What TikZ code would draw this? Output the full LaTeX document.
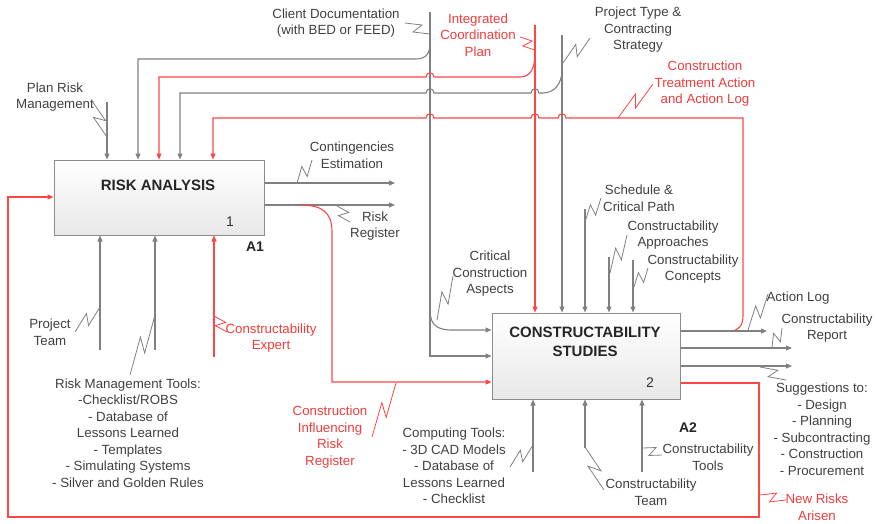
\documentclass[tikz,border=0pt]{standalone}
\usepackage{fontspec}
\setmainfont{Liberation Sans}
\usetikzlibrary{arrows.meta,calc}
\definecolor{lg}{HTML}{808080}
\definecolor{tg}{HTML}{404040}
\definecolor{rl}{HTML}{FF4545}
\definecolor{rt}{HTML}{F03C3C}
\definecolor{bx}{HTML}{8C8C8C}
\tikzset{
 gl/.style={draw=lg, line width=1.1pt},
 rln/.style={draw=rl, line width=1.1pt},
 garr/.style={gl, -{Triangle[length=6pt,width=5pt]}},
 rarr/.style={rln, -{Triangle[length=6pt,width=5pt]}},
 lead/.style={draw=lg, line width=0.8pt},
 rlead/.style={draw=rl, line width=0.8pt},
 lbl/.style={text=tg, font=\fontsize{13.3}{16.5}\selectfont, align=center, inner sep=0pt},
 rlbl/.style={lbl, text=rt},
 ttl/.style={text=black!85, font=\fontsize{15}{19}\selectfont\bfseries, align=center, inner sep=0pt},
 act/.style={draw=bx, line width=1pt, top color=white, bottom color=black!9, inner sep=0pt}
}
\newcommand\zz[3]{\draw[#1] (#2) -- ($(#2)!0.6!(#3)!5pt!90:(#3)$) -- ($(#2)!0.4!(#3)!5pt!-90:(#3)$) -- (#3);}
\begin{document}
\begin{tikzpicture}[x=1pt,y=-1pt]
\useasboundingbox (0,0) rectangle (877,523);

% activity boxes
\node[act, minimum width=210pt, minimum height=75pt] (ra) at (159,197.5) {};
\node[act, minimum width=188pt, minimum height=86pt] (cs) at (586,356) {};
\node[ttl] (rat) at (158,185) {RISK ANALYSIS};
\node[ttl] (cst) at (585,342) {CONSTRUCTABILITY\\STUDIES};
\node[lbl, font=\fontsize{14}{16}\selectfont, text=black!80] (ran) at (230,222) {1};
\node[lbl, font=\fontsize{14}{16}\selectfont, text=black!80] (csn) at (650,383) {2};
\node[ttl, font=\fontsize{14}{16}\selectfont\bfseries] (a1) at (255,247) {A1};
\node[ttl, font=\fontsize{14}{16}\selectfont\bfseries] (a2) at (688,428) {A2};

% coordinates
\coordinate (cdT) at (430,12);
\coordinate (cdC) at (430,356);
\coordinate (ccaE) at (452,330);
\coordinate (ra1) at (107,102);
\coordinate (ra2) at (138,59);
\coordinate (ra3) at (159,77);
\coordinate (ra4) at (180,93);
\coordinate (ra5) at (213,118);
\coordinate (icT) at (535,25);
\coordinate (ptT) at (562,35);
\coordinate (ceE) at (395,183);
\coordinate (rrE) at (395,205);
\coordinate (rcs) at (332,382);
\coordinate (fb1) at (759,383);
\coordinate (fb2) at (759,517);
\coordinate (fb3) at (8,517);
\coordinate (fb4) at (8,197);
\coordinate (rb1) at (100,350);
\coordinate (rb2) at (155,350);
\coordinate (rb3) at (214,357);
\coordinate (ct1) at (585,209);
\coordinate (ct2) at (609,257);
\coordinate (ct3) at (633,260);
\coordinate (co1) at (767,331);
\coordinate (co2) at (792,348);
\coordinate (co3) at (792,366);
\coordinate (cb1) at (533,472);
\coordinate (cb2) at (585,448);
\coordinate (cb3) at (642,472);

% client documentation
\draw[garr] (cdT) -- (cdC) -- (cdC -| cs.west);
\draw[garr] (430,310) .. controls (430,325) and (437,330) .. (ccaE) -- (ccaE -| cs.west);
\draw[garr] (430,44) .. controls (430,53) and (426,59) .. (416,59) -- (ra2) -- (ra2 |- ra.north);
% integrated coordination plan
\draw[rarr] (icT) -- (icT |- cs.north);
\draw[rarr] (535,53) .. controls (535,69) and (530,77) .. (520,77) -- (434,77)
  .. controls (434,71.5) and (426,71.5) .. (426,77) -- (ra3) -- (ra3 |- ra.north);
% project type
\draw[garr] (ptT) -- (ptT |- cs.north);
\draw[garr] (562,70) .. controls (562,84) and (554,93) .. (543,93) -- (539,93)
  .. controls (539,87.5) and (531,87.5) .. (531,93) -- (434,93)
  .. controls (434,87.5) and (426,87.5) .. (426,93) -- (ra4) -- (ra4 |- ra.north);
% treatment action
\draw[rarr] (730,331) .. controls (738,331) and (743,326) .. (743,316) -- (743,118) -- (566,118)
  .. controls (566,112.5) and (558,112.5) .. (558,118) -- (539,118)
  .. controls (539,112.5) and (531,112.5) .. (531,118) -- (434,118)
  .. controls (434,112.5) and (426,112.5) .. (426,118) -- (ra5) -- (ra5 |- ra.north);
% plan risk management
\draw[garr] (ra1) -- (ra1 |- ra.north);

% risk analysis outputs
\draw[garr] (ceE -| ra.east) -- (ceE);
\draw[garr] (rrE -| ra.east) -- (rrE);
\draw[rarr] (300,205) .. controls (322,205) and (332,212) .. (332,232) -- (rcs) -- (rcs -| cs.west);
% feedback
\draw[rarr] (fb1 -| cs.east) -- (fb1) -- (fb2) -- (fb3) -- (fb4) -- (fb4 -| ra.west);
% risk analysis mechanisms
\draw[garr] (rb1) -- (rb1 |- ra.south);
\draw[garr] (rb2) -- (rb2 |- ra.south);
\draw[rarr] (rb3) -- (rb3 |- ra.south);
% CS controls
\draw[garr] (ct1) -- (ct1 |- cs.north);
\draw[garr] (ct2) -- (ct2 |- cs.north);
\draw[garr] (ct3) -- (ct3 |- cs.north);
% CS outputs
\draw[garr] (co1 -| cs.east) -- (co1);
\draw[garr] (co2 -| cs.east) -- (co2);
\draw[garr] (co3 -| cs.east) -- (co3);
% CS mechanisms
\draw[garr] (cb1) -- (cb1 |- cs.south);
\draw[garr] (cb2) -- (cb2 |- cs.south);
\draw[garr] (cb3) -- (cb3 |- cs.south);

% labels
\node[lbl] (pmr) at (55,97) {Plan Risk\\Management};
\node[lbl] (cd) at (336,23) {Client Documentation\\(with BED or FEED)};
\node[rlbl] (icp) at (478,35) {Integrated\\Coordination\\Plan};
\node[lbl] (ptc) at (638,30) {Project Type \&\\Contracting\\Strategy};
\node[rlbl] (cta) at (705,84) {Construction\\Treatment Action\\and Action Log};
\node[lbl] (cen) at (352,155) {Contingencies\\Estimation};
\node[lbl] (rrg) at (375,226) {Risk\\Register};
\node[lbl] (ptm) at (50,332) {Project\\Team};
\node[lbl] (rmt) at (128,433) {Risk Management Tools:\\-Checklist/ROBS\\- Database of\\Lessons Learned\\- Templates\\- Simulating Systems\\- Silver and Golden Rules};
\node[rlbl] (cex) at (271,338) {Constructability\\Expert};
\node[rlbl] (cir) at (330,437) {Construction\\Influencing\\Risk\\Register};
\node[lbl] (cca) at (490,274) {Critical\\Construction\\Aspects};
\node[lbl] (scp) at (639,198) {Schedule \&\\Critical Path};
\node[lbl] (cap) at (673,235) {Constructability\\Approaches};
\node[lbl] (ccn) at (693,269) {Constructability\\Concepts};
\node[lbl] (alg) at (798,298) {Action Log};
\node[lbl] (crp) at (827,328) {Constructability\\Report};
\node[lbl] (sug) at (822,429) {Suggestions to:\\- Design\\- Planning\\- Subcontracting\\- Construction\\- Procurement};
\node[lbl] (ctl) at (454,466) {Computing Tools:\\- 3D CAD Models\\- Database of\\Lessons Learned\\- Checklist};
\node[lbl] (ctm) at (651,492) {Constructability\\Team};
\node[lbl] (ctt) at (708,457) {Constructability\\Tools};
\node[rlbl] (nra) at (817,507) {New Risks\\Arisen};

% leaders
\zz{lead}{92,101}{107,137}
\zz{lead}{405,23}{430,34}
\zz{rlead}{520,37}{535,50}
\zz{lead}{563,63}{590,38}
\zz{rlead}{618,118}{653,84}
\zz{lead}{297,183}{312,160}
\zz{lead}{337,206}{350,222}
\zz{lead}{75,332}{100,307}
\zz{lead}{130,375}{155,315}
\zz{rlead}{214,316}{227,332}
\zz{rlead}{372,437}{396,383}
\zz{lead}{437,320}{453,276}
\zz{lead}{585,222}{601,198}
\zz{lead}{610,273}{627,235}
\zz{lead}{634,287}{648,268}
\zz{lead}{748,330}{768,294}
\zz{lead}{772,347}{782,328}
\zz{lead}{760,367}{786,380}
\zz{lead}{510,467}{533,445}
\zz{lead}{585,447}{604,490}
\zz{lead}{643,448}{662,455}
\zz{rlead}{760,495}{786,500}
\end{tikzpicture}
\end{document}
